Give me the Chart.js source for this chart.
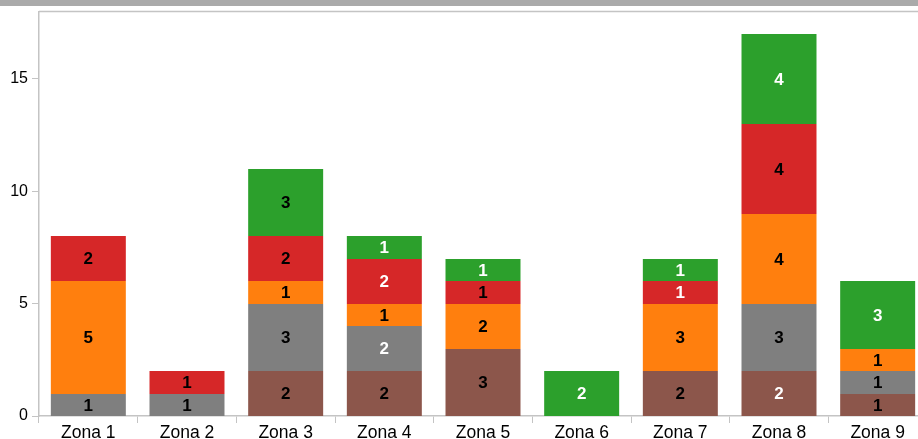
<!DOCTYPE html>
<html>
<head>
<meta charset="utf-8">
<script src="https://cdn.jsdelivr.net/npm/chart.js@4.4.1/dist/chart.umd.min.js"></script>
<style>
  html, body { margin: 0; padding: 0; overflow: hidden; background: #fff; }
  #wrap { position: relative; width: 930px; height: 439px; }
  #topbar { position: absolute; left: 0; top: 0; width: 100%; height: 6px; background: #aaaaaa; }
</style>
</head>
<body>
<div id="wrap">
  <canvas id="zonesChart" width="930" height="439"></canvas>
  <div id="topbar"></div>
</div>
<script>
// categories and stacked series (bottom to top)
const zones = ['Zona 1', 'Zona 2', 'Zona 3', 'Zona 4', 'Zona 5', 'Zona 6', 'Zona 7', 'Zona 8', 'Zona 9'];
const brown  = [null, null, 2, 2, 3, null, 2, 2, 1];
const gray   = [1, 1, 3, 2, null, null, null, 3, 1];
const orange = [5, null, 1, 1, 2, null, 3, 4, 1];
const red    = [2, 1, 2, 2, 1, null, 1, 4, null];
const green  = [null, null, 3, 1, 1, 2, 1, 4, 3];
const yTicks = [0, 5, 10, 15];

// label text colour per segment ('w' = white, 'k' = black)
const brownText  = ['k', 'k', 'k', 'k', 'k', 'k', 'k', 'w', 'k'];
const grayText   = ['k', 'k', 'k', 'w', 'k', 'k', 'k', 'k', 'k'];
const orangeText = ['k', 'k', 'k', 'k', 'k', 'k', 'k', 'k', 'k'];
const redText    = ['k', 'k', 'k', 'w', 'k', 'k', 'w', 'k', 'k'];
const greenText  = ['w', 'w', 'k', 'w', 'w', 'w', 'w', 'w', 'w'];

const series = [
  { data: brown,  color: '#8c564b', text: brownText },
  { data: gray,   color: '#7f7f7f', text: grayText },
  { data: orange, color: '#ff7f0e', text: orangeText },
  { data: red,    color: '#d62728', text: redText },
  { data: green,  color: '#2ca02c', text: greenText }
];

const axisColor = '#c4c4c4';
const fontFamily = '"Liberation Sans", Arial, sans-serif';

// snap stacked segment edges to whole pixels so no seams show between them
const snapBars = {
  id: 'snapBars',
  beforeDatasetsDraw(chart) {
    chart.data.datasets.forEach((ds, i) => {
      chart.getDatasetMeta(i).data.forEach(bar => {
        bar.y = Math.round(bar.y);
        bar.base = Math.round(bar.base);
      });
    });
  }
};

const segmentLabels = {
  id: 'segmentLabels',
  afterDatasetsDraw(chart) {
    const ctx = chart.ctx;
    ctx.save();
    ctx.font = 'bold 17px ' + fontFamily;
    ctx.textAlign = 'center';
    ctx.textBaseline = 'middle';
    chart.data.datasets.forEach((ds, i) => {
      const meta = chart.getDatasetMeta(i);
      meta.data.forEach((bar, j) => {
        const v = ds.data[j];
        if (!v) return;
        ctx.fillStyle = series[i].text[j] === 'w' ? '#ffffff' : '#000000';
        ctx.fillText(String(v), bar.x, (bar.y + bar.base) / 2 + 1);
      });
    });
    ctx.restore();
  }
};

const frameTop = {
  id: 'frameTop',
  afterDraw(chart) {
    const a = chart.chartArea;
    const ctx = chart.ctx;
    ctx.save();
    ctx.strokeStyle = axisColor;
    ctx.lineWidth = 1.5;
    ctx.beginPath();
    ctx.moveTo(a.left, a.top);
    ctx.lineTo(a.right + 10, a.top);
    ctx.stroke();
    ctx.restore();
  }
};

new Chart(document.getElementById('zonesChart').getContext('2d'), {
  type: 'bar',
  data: {
    labels: zones,
    datasets: series.map(s => ({
      data: s.data,
      backgroundColor: s.color,
      borderWidth: 0,
      categoryPercentage: 1,
      barPercentage: 0.76
    }))
  },
  options: {
    responsive: false,
    animation: false,
    layout: { padding: { top: 11.5, right: 3, left: 0, bottom: 0 } },
    plugins: {
      legend: { display: false },
      tooltip: { enabled: false }
    },
    scales: {
      x: {
        stacked: true,
        afterFit: s => { s.height = 23; s.paddingLeft = 0; s.paddingRight = 0; },
        grid: {
          offset: true,
          drawOnChartArea: false,
          color: axisColor,
          tickLength: 7
        },
        border: { color: axisColor, width: 1.5 },
        ticks: {
          color: '#000',
          font: { family: fontFamily, size: 17.5 },
          padding: 0,
          maxRotation: 0
        }
      },
      y: {
        stacked: true,
        min: 0,
        max: 18,
        afterFit: s => { s.width = 39; s.paddingTop = 0; s.paddingBottom = 0; },
        afterBuildTicks: s => { s.ticks = yTicks.map(v => ({ value: v })); },
        grid: {
          drawOnChartArea: false,
          color: axisColor,
          tickLength: 7
        },
        border: { color: axisColor, width: 1.5 },
        ticks: {
          color: '#000',
          font: { family: fontFamily, size: 16 },
          padding: 4
        }
      }
    }
  },
  plugins: [snapBars, segmentLabels, frameTop]
});
</script>
</body>
</html>
